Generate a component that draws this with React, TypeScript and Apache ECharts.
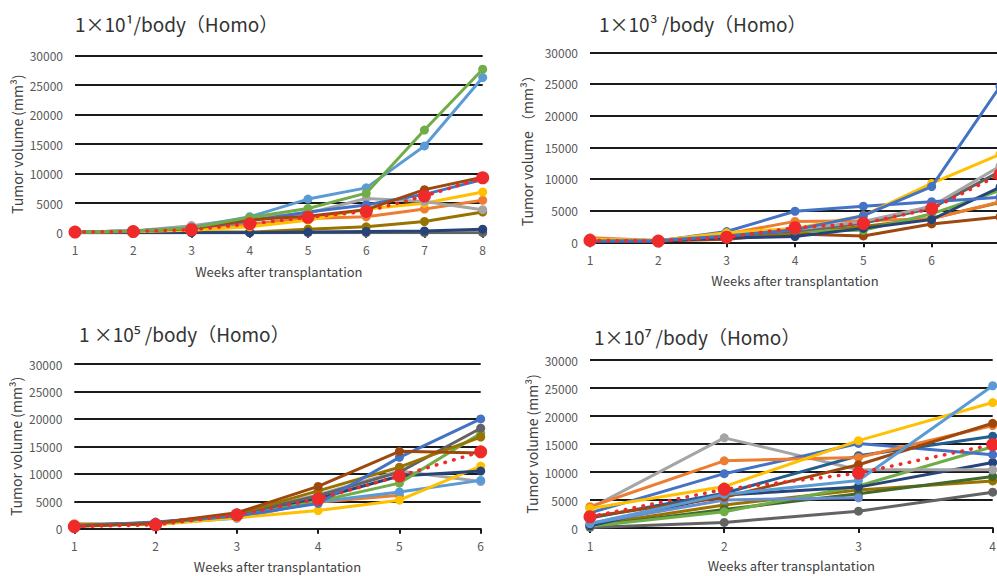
import React, { useEffect, useRef } from "react";
import * as echarts from "echarts";

// ---------- categories ----------
const weeks8 = ["1", "2", "3", "4", "5", "6", "7", "8"];
const weeks7 = ["1", "2", "3", "4", "5", "6", "7"];
const weeks6 = ["1", "2", "3", "4", "5", "6"];
const weeks4 = ["1", "2", "3", "4"];

// ---------- panel 1 : 1x10^1 ----------
const p1Green = [100, 300, 800, 2600, 4100, 6700, 17400, 27700];
const p1LightBlue = [100, 300, 900, 2700, 5700, 7600, 14700, 26300];
const p1Brown = [100, 300, 700, 2200, 2800, 3900, 7300, 9400];
const p1Blue = [100, 300, 700, 2000, 3500, 4700, 6500, 9000];
const p1Gold = [100, 200, 400, 1000, 2100, 4000, 5000, 6900];
const p1Orange = [100, 200, 500, 1500, 2400, 2700, 4000, 5500];
const p1Gray = [100, 300, 1200, 2500, 3300, 5800, 5300, 3900];
const p1Olive = [100, 100, 100, 100, 600, 1000, 1900, 3500];
const p1DarkBlue = [0, 0, 0, 0, 100, 200, 300, 600];
const p1DarkGray = [0, 0, 0, 0, 0, 0, 0, 0];
const p1Mean = [100, 200, 500, 1500, 2600, 3600, 6200, 9300];

// ---------- panel 2 : 1x10^3 ----------
const p2Blue = [200, 300, 1000, 2000, 4200, 8800, 24600];
const p2SteelBlue = [300, 200, 1700, 4900, 5700, 6400, 7100];
const p2Gold = [500, 300, 1500, 2200, 4200, 9300, 13900];
const p2Gray = [400, 300, 1200, 2000, 3300, 5700, 12000];
const p2DarkGray = [300, 300, 1000, 1800, 3000, 5400, 11200];
const p2Orange = [700, 300, 1300, 3300, 3400, 3700, 6400];
const p2Green = [300, 200, 1100, 1800, 1900, 4500, 8200];
const p2DarkBlue = [200, 200, 700, 900, 2200, 3600, 8700];
const p2Olive = [300, 300, 800, 1500, 2500, 3800, 6300];
const p2Brown = [200, 200, 500, 1300, 1000, 2900, 4000];
const p2Mean = [300, 200, 800, 2300, 3000, 5300, 10700];

// ---------- panel 3 : 1x10^5 ----------
const p3Blue = [500, 1200, 2300, 4600, 13000, 20000];
const p3DarkGray = [600, 1100, 2600, 6000, 10300, 18300];
const p3Green = [700, 1000, 2300, 5000, 8300, 17400];
const p3Olive = [600, 1000, 2700, 6900, 11200, 16700];
const p3Brown = [400, 1000, 2900, 7700, 14100, 13800];
const p3Gold = [800, 700, 2000, 3300, 5200, 11400];
const p3DarkBlue = [500, 1000, 2400, 5500, 9600, 10500];
const p3LightBlue = [700, 900, 1900, 4900, 6700, 8800];
const p3Gray = [600, 1100, 2600, 6200, 10500, 8600];
const p3Orange = [900, 800, 2200, 4800, 6100, null];
const p3Mean = [400, 700, 2500, 5400, 9600, 14000];

// ---------- panel 4 : 1x10^7 ----------
const p4LightBlue = [800, 6000, 8500, 25400];
const p4Gold = [3500, 7400, 15600, 22400];
const p4Brown = [2000, 5500, 11300, 18700];
const p4Orange = [3800, 12000, 12600, 18300];
const p4SteelBlue = [1800, 6200, 12900, 16400];
const p4Green = [300, 2900, 7500, 14500];
const p4Blue = [2700, 9700, 15100, 13100];
const p4DarkBlue = [400, 5900, 7300, 11700];
const p4Gray = [3500, 16100, 10400, 10400];
const p4DarkGreen = [300, 3300, 6100, 9200];
const p4Olive = [500, 4100, 6800, 8400];
const p4Periwinkle = [800, 5000, 5400, null];
const p4DarkGray = [100, 1000, 3000, 6400];
const p4Mean = [2000, 6900, 9800, 14900];

// ---------- tick labels / texts ----------
const yMax = 30000;
const yStep = 5000;
const titles = [
  "1×10¹/body（Homo）",
  "1×10³ /body（Homo）",
  "1 ×10⁵ /body（Homo）",
  "1×10⁷ /body（Homo）",
];
const yNames = [
  "Tumor volume (mm³)",
  "Tumor volume （mm³）",
  "Tumor volume (mm³)",
  "Tumor volume (mm³)",
];
const xName = "Weeks after transplantation";

const C = {
  blue: "#4472C4",
  orange: "#ED7D31",
  gray: "#A5A5A5",
  gold: "#FFC000",
  lightBlue: "#5B9BD5",
  green: "#70AD47",
  darkBlue: "#264478",
  brown: "#9E480E",
  darkGray: "#636363",
  olive: "#997300",
  steelBlue: "#255E91",
  darkGreen: "#43682B",
  periwinkle: "#698ED0",
  mean: "#EE2A2A",
};

const FONT = '"Noto Sans CJK JP", "Noto Sans", sans-serif';

export default function App() {
  const ref = useRef<HTMLDivElement>(null);

  useEffect(() => {
    if (!ref.current) return;
    const chart = echarts.init(ref.current, null, { renderer: "svg" });

    const panels = [
      {
        cats: weeks8,
        lines: [
          [p1Olive, C.olive],
          [p1DarkGray, C.darkGray],
          [p1DarkBlue, C.darkBlue],
          [p1Orange, C.orange],
          [p1Gold, C.gold],
          [p1Gray, C.gray],
          [p1Blue, C.blue],
          [p1Brown, C.brown],
          [p1LightBlue, C.lightBlue],
          [p1Green, C.green],
        ],
        mean: p1Mean,
      },
      {
        cats: weeks7,
        lines: [
          [p2Brown, C.brown],
          [p2Olive, C.olive],
          [p2Orange, C.orange],
          [p2Green, C.green],
          [p2DarkBlue, C.darkBlue],
          [p2DarkGray, C.darkGray],
          [p2Gray, C.gray],
          [p2SteelBlue, C.blue],
          [p2Gold, C.gold],
          [p2Blue, C.blue],
        ],
        mean: p2Mean,
      },
      {
        cats: weeks6,
        lines: [
          [p3Orange, C.orange],
          [p3Gray, C.gray],
          [p3LightBlue, C.lightBlue],
          [p3Gold, C.gold],
          [p3DarkBlue, C.darkBlue],
          [p3Green, C.green],
          [p3DarkGray, C.darkGray],
          [p3Olive, C.olive],
          [p3Blue, C.blue],
          [p3Brown, C.brown],
        ],
        mean: p3Mean,
      },
      {
        cats: weeks4,
        lines: [
          [p4DarkGray, C.darkGray],
          [p4Olive, C.olive],
          [p4DarkGreen, C.darkGreen],
          [p4Green, C.green],
          [p4DarkBlue, C.darkBlue],
          [p4Periwinkle, C.periwinkle],
          [p4Gray, C.gray],
          [p4Blue, C.blue],
          [p4SteelBlue, C.steelBlue],
          [p4Orange, C.orange],
          [p4Brown, C.brown],
          [p4Gold, C.gold],
          [p4LightBlue, C.lightBlue],
        ],
        mean: p4Mean,
      },
    ];

    const layout = [
      { left: 75, top: 55.7, width: 407.7, height: 177, tx: 75, ty: 23, yGap: 51, xGap: 32, hideMax: false },
      { left: 590, top: 52.3, width: 410, height: 190, tx: 599, ty: 23, yGap: 56, xGap: 32, hideMax: true },
      { left: 74.3, top: 364, width: 406.4, height: 164.7, tx: 79, ty: 333, yGap: 51, xGap: 31, hideMax: false },
      { left: 590, top: 360, width: 402.7, height: 168, tx: 594, ty: 336, yGap: 51, xGap: 31, hideMax: false },
    ];

    const grid: any[] = [];
    const xAxis: any[] = [];
    const yAxis: any[] = [];
    const series: any[] = [];
    const graphic: any[] = [];

    panels.forEach((p, i) => {
      const L = layout[i];
      grid.push({ left: L.left, top: L.top, width: L.width, height: L.height });
      xAxis.push({
        type: "category",
        gridIndex: i,
        data: p.cats,
        boundaryGap: false,
        axisLine: { show: true, lineStyle: { color: "#1a1a1a", width: 2 } },
        axisTick: { show: true, length: 5, lineStyle: { color: "#1a1a1a", width: 2 } },
        axisLabel: {
          color: "#595959",
          fontSize: 12,
          margin: 11,
          fontFamily: FONT,
          showMaxLabel: !L.hideMax,
        },
        splitLine: { show: false },
        name: xName,
        nameLocation: "middle",
        nameGap: L.xGap,
        nameTextStyle: { color: "#404040", fontSize: 13, fontFamily: FONT },
      });
      yAxis.push({
        type: "value",
        gridIndex: i,
        min: 0,
        max: yMax,
        interval: yStep,
        axisLine: { show: false },
        axisTick: { show: false },
        axisLabel: {
          color: "#595959",
          fontSize: 12,
          margin: 12,
          fontFamily: FONT,
          formatter: (v: number) => String(v),
        },
        splitLine: { show: true, lineStyle: { color: "#1a1a1a", width: 2 } },
        name: yNames[i],
        nameLocation: "middle",
        nameGap: L.yGap,
        nameTextStyle: { color: "#404040", fontSize: 14, fontFamily: FONT },
      });
      p.lines.forEach(([data, color], k) => {
        series.push({
          type: "line",
          xAxisIndex: i,
          yAxisIndex: i,
          data,
          symbol: "circle",
          symbolSize: 9,
          showSymbol: true,
          connectNulls: false,
          lineStyle: { color, width: 3 },
          itemStyle: { color },
          emphasis: { disabled: true },
          z: 2 + k * 0.01,
        });
      });
      series.push({
        type: "line",
        xAxisIndex: i,
        yAxisIndex: i,
        data: p.mean,
        symbol: "circle",
        symbolSize: 13,
        lineStyle: { color: C.mean, width: 3.5, type: [0.5, 8.5], cap: "round" },
        itemStyle: { color: C.mean },
        emphasis: { disabled: true },
        z: 5,
      });
      graphic.push({
        type: "text",
        x: L.tx,
        y: L.ty,
        style: {
          text: titles[i],
          fill: "#333333",
          font: `19px ${FONT}`,
          verticalAlign: "middle",
          align: "left",
        },
      });
    });

    chart.setOption({
      animation: false,
      backgroundColor: "#ffffff",
      grid,
      xAxis,
      yAxis,
      series,
      graphic,
    });

    return () => chart.dispose();
  }, []);

  return (
    <div
      style={{ position: "fixed", left: 0, top: 0, width: 997, height: 576, overflow: "hidden" }}
    >
      <div ref={ref} style={{ width: 1012, height: 576 }} />
    </div>
  );
}
